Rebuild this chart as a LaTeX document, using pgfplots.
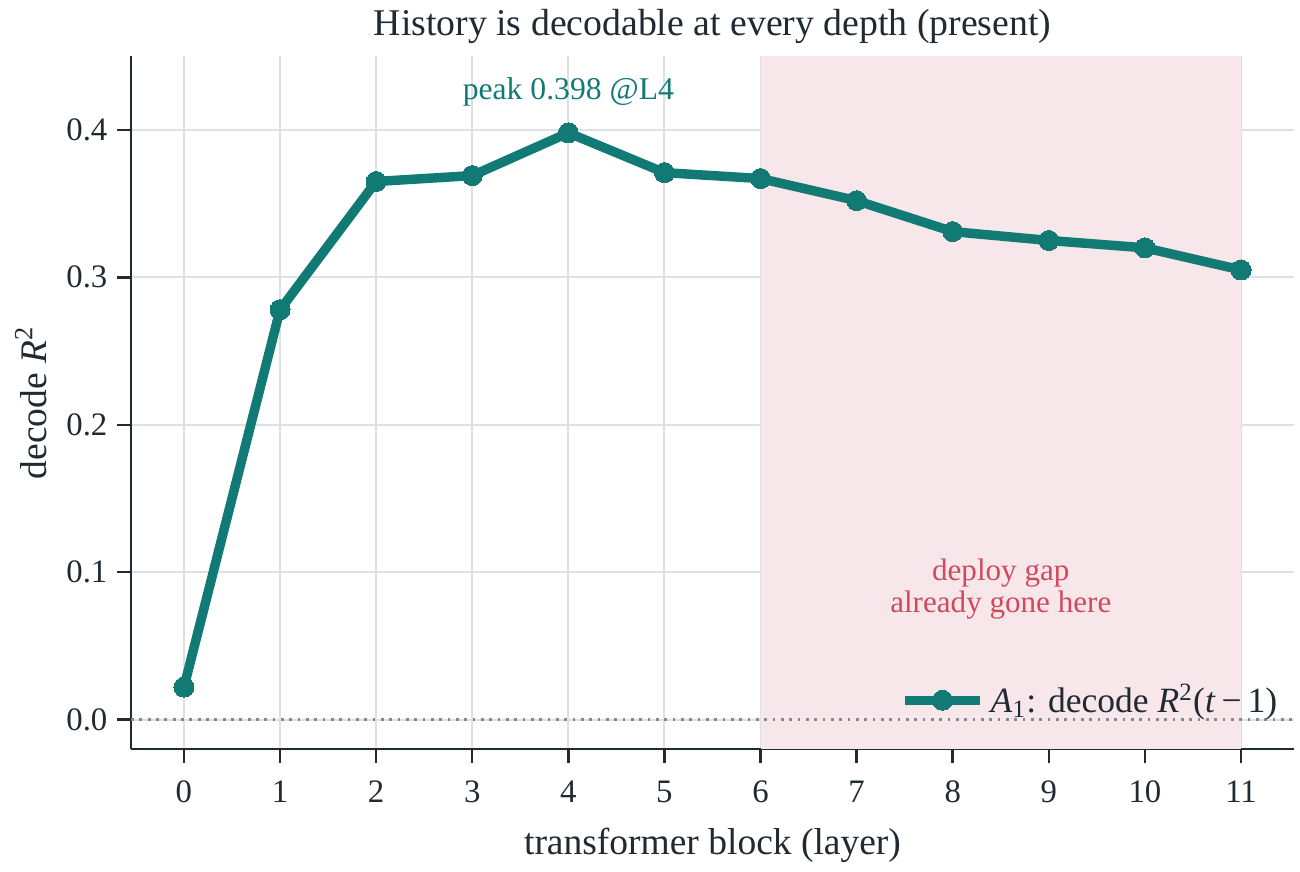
\documentclass[border=0pt]{standalone}
\usepackage{fontspec}
\setmainfont{Liberation Serif}
\usepackage{pgfplots}
\pgfplotsset{compat=1.18}
\definecolor{teal1}{HTML}{117A74}
\definecolor{pinkfill}{HTML}{F7E6EA}
\definecolor{pinktext}{HTML}{D04A5E}
\definecolor{gridc}{HTML}{DDE1E3}
\definecolor{spine}{HTML}{1F2A33}
\definecolor{zeroc}{HTML}{7F8A93}
\begin{document}
\begin{tikzpicture}
\begin{axis}[
  scale only axis,
  width=418.7pt, height=249.5pt,
  xmin=-0.55, xmax=11.55, ymin=-0.02, ymax=0.45,
  axis lines*=left,
  axis line style={spine, line width=0.9pt},
  xtick={0,...,11},
  ytick={0,0.1,0.2,0.3,0.4},
  yticklabel style={/pgf/number format/.cd, fixed, fixed zerofill, precision=1},
  xticklabel style={yshift=-3pt},
  /pgf/number format/assume math mode=true,
  tick align=outside,
  major tick length=5pt,
  tick style={spine, line width=0.9pt},
  ticklabel style={font=\fontsize{11.8}{13}\selectfont, text=spine},
  grid=major,
  major grid style={gridc, line width=0.7pt},
  title={History is decodable at every depth (present)},
  title style={font=\fontsize{13.6}{15}\selectfont, text=spine, yshift=-5pt},
  xlabel={transformer block (layer)},
  ylabel={decode \textit{R}\textsuperscript{2}},
  xlabel style={yshift=-2pt},
  label style={font=\fontsize{13.5}{15}\selectfont, text=spine},
  legend style={draw=none, fill=none, at={(0.998,0.03)}, anchor=south east,
    font=\fontsize{12.8}{14}\selectfont, text=spine},
  legend cell align=left,
  legend image code/.code={\draw[#1, mark repeat=2, mark phase=2] plot coordinates {(0cm,0cm) (0.48cm,0cm) (0.96cm,0cm)};},
  clip=false,
]
\fill[pinkfill] (axis cs:6,-0.02) rectangle (axis cs:11,0.45);
\addplot[forget plot, zeroc, dotted, line width=1pt] coordinates {(-0.55,0) (11.55,0)};
\addplot[teal1, line width=3.4pt, mark=*, mark size=3.6pt, mark options={solid, fill=teal1, draw=teal1, line width=0pt}]
coordinates {
(0,0.022) (1,0.278) (2,0.365) (3,0.369) (4,0.398) (5,0.371)
(6,0.367) (7,0.352) (8,0.331) (9,0.325) (10,0.320) (11,0.305)
};
\addlegendentry{\textit{A}\textsubscript{1}: decode \textit{R}\textsuperscript{2}(\textit{t}\,−\,1)}
\node[text=teal1, font=\fontsize{11.4}{13}\selectfont] at (axis cs:4,0.426) {peak 0.398 @L4};
\node[text=pinktext, font=\fontsize{11.2}{11.4}\selectfont, align=center] at (axis cs:8.5,0.0885) {deploy gap\\already gone here};
\end{axis}
\path ([xshift=-47.2pt,yshift=-42.5pt]current axis.south west) rectangle ([xshift=2.2pt,yshift=20.2pt]current axis.north east);
\end{tikzpicture}
\end{document}
